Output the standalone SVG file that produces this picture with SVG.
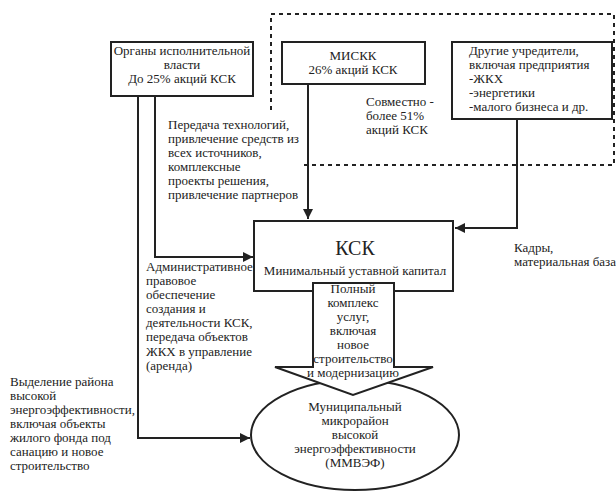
<svg xmlns="http://www.w3.org/2000/svg" width="616" height="491" viewBox="0 0 616 491">
<defs>
<style>
text{font-family:"Liberation Serif","Times New Roman",serif;font-size:13px;fill:#222}
.c{text-anchor:middle}
.box{fill:#fff;stroke:#222;stroke-width:2}
.ln{fill:none;stroke:#222;stroke-width:2}
.dot{fill:none;stroke:#222;stroke-width:2;stroke-dasharray:4 4}
</style>
<marker id="ah" viewBox="0 0 10 10" refX="10" refY="5" markerWidth="5" markerHeight="5" orient="auto" markerUnits="strokeWidth">
<path d="M0,0 L10,5 L0,10 z" fill="#222"/>
</marker>
</defs>
<rect width="616" height="491" fill="#fff"/>
<polyline class="dot" points="271,110 271,14 614,14 614,165 302,165"/>
<g id="organy">
<rect class="box" x="111" y="42" width="142" height="54"/>
<text class="c" x="182" y="55">Органы исполнительной</text>
<text class="c" x="182" y="69">власти</text>
<text class="c" x="182" y="83">До 25% акций КСК</text>
</g>
<g id="miskk">
<rect class="box" x="282" y="42" width="143" height="42"/>
<text class="c" x="353" y="60">МИСКК</text>
<text class="c" x="353" y="74">26% акций КСК</text>
</g>
<g id="drugie">
<rect class="box" x="452" y="42" width="160" height="77"/>
<text x="469" y="55">Другие учредители,</text>
<text x="469" y="69">включая предприятия</text>
<text x="469" y="83">-ЖКХ</text>
<text x="469" y="97">-энергетики</text>
<text x="469" y="111">-малого бизнеса и др.</text>
</g>
<g id="sovmestno">
<text x="366" y="106">Совместно -</text>
<text x="366" y="120">более 51%</text>
<text x="366" y="134">акций КСК</text>
</g>
<g id="connectors">
<polyline class="ln" points="155,96 155,257 253,257" marker-end="url(#ah)"/>
<polyline class="ln" points="138,96 138,438 250,438" marker-end="url(#ah)"/>
<line class="ln" x1="308" y1="84" x2="308" y2="219" marker-end="url(#ah)"/>
<polyline class="ln" points="517,119 517,228 455,228" marker-end="url(#ah)"/>
</g>
<g id="ksk">
<rect class="box" x="254" y="221" width="199" height="70"/>
<text class="c" x="355" y="255" style="font-size:20px">КСК</text>
<text class="c" x="355" y="275">Минимальный уставной капитал</text>
</g>
<g id="mmvef">
<ellipse class="box" cx="355" cy="435" rx="104" ry="55"/>
<text class="c" x="355" y="411">Муниципальный</text>
<text class="c" x="355" y="425">микрорайон</text>
<text class="c" x="355" y="439">высокой</text>
<text class="c" x="355" y="453">энергоэффективности</text>
<text class="c" x="355" y="467">(ММВЭФ)</text>
</g>
<g id="uslugi">
<polygon class="box" points="313,283 394,283 394,367 433,367 353,395 275,367 313,367"/>
<text class="c" x="353" y="293">Полный</text>
<text class="c" x="353" y="307">комплекс</text>
<text class="c" x="353" y="321">услуг,</text>
<text class="c" x="353" y="335">включая</text>
<text class="c" x="353" y="349">новое</text>
<text class="c" x="353" y="363">строительство</text>
<text class="c" x="353" y="377">и модернизацию</text>
</g>
<g id="labels">
<text x="168" y="129">Передача технологий,</text>
<text x="168" y="143">привлечение средств из</text>
<text x="168" y="157">всех источников,</text>
<text x="168" y="171">комплексные</text>
<text x="168" y="185">проекты решения,</text>
<text x="168" y="199">привлечение партнеров</text>
<text x="146" y="271">Административное</text>
<text x="146" y="285">правовое</text>
<text x="146" y="299">обеспечение</text>
<text x="146" y="313">создания и</text>
<text x="146" y="327">деятельности КСК,</text>
<text x="146" y="341">передача объектов</text>
<text x="146" y="356">ЖКХ в управление</text>
<text x="146" y="370">(аренда)</text>
<text x="10" y="386">Выделение района</text>
<text x="10" y="400">высокой</text>
<text x="10" y="414">энергоэффективности,</text>
<text x="10" y="428">включая объекты</text>
<text x="10" y="442">жилого фонда под</text>
<text x="10" y="456">санацию и новое</text>
<text x="10" y="470">строительство</text>
<text x="514" y="252">Кадры,</text>
<text x="514" y="266">материальная база</text>
</g>
</svg>
